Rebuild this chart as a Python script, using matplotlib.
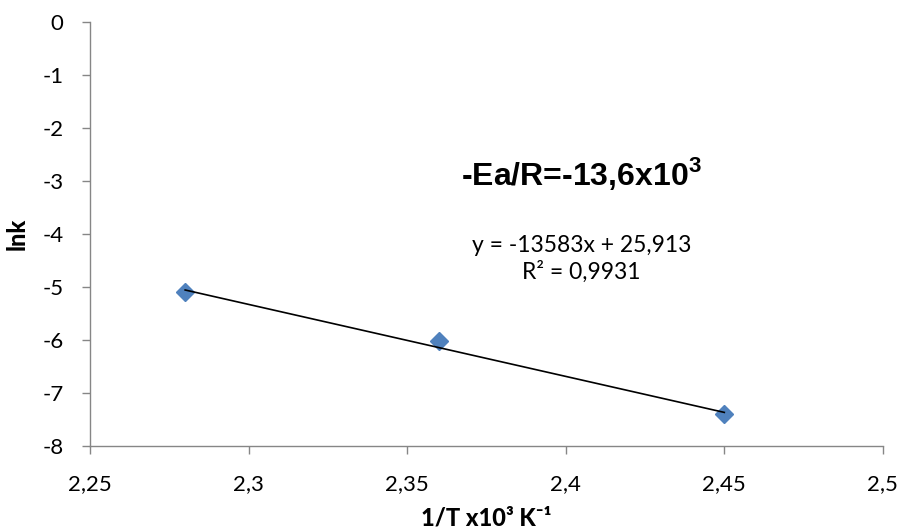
import matplotlib
matplotlib.use("Agg")
import matplotlib.pyplot as plt
import matplotlib.ticker as ticker
import numpy as np

# Datos (1/T x10^3 y lnk)
inv_T = [2.28, 2.36, 2.45]
lnk = [-5.10, -6.02, -7.40]

# Recta de ajuste (x en 1/T, es decir x10^-3)
slope = -13583
intercept = 25.913
eq_text = "y = -13583x + 25,913\nR² = 0,9931"
ea_text = r"-Ea/R=-13,6x10$^{\mathbf{3}}$"

xticks = [2.25, 2.3, 2.35, 2.4, 2.45, 2.5]
yticks = [0, -1, -2, -3, -4, -5, -6, -7, -8]

plt.rcParams['font.family'] = ['Lato', 'DejaVu Sans']
plt.rcParams['mathtext.fontset'] = 'custom'
plt.rcParams['mathtext.bf'] = 'Liberation Sans:bold'
plt.rcParams['mathtext.rm'] = 'Liberation Sans'

fig = plt.figure(figsize=(9.02, 5.31), dpi=100)
ax = fig.add_axes([0.0998, 0.160, 0.879, 0.7986])

ax.plot(inv_T, lnk, linestyle='none', marker='D', markersize=9.5,
        color='#4F81BD', markeredgecolor='#4F81BD', zorder=3)

x_fit = np.array([min(inv_T), max(inv_T)])
y_fit = slope * x_fit / 1000 + intercept
ax.plot(x_fit, y_fit, color='black', linewidth=1.2, zorder=4)

ax.set_xlim(2.25, 2.5)
ax.set_ylim(-8, 0)
ax.set_xticks(xticks)
ax.set_yticks(yticks)
fmt = ticker.FuncFormatter(lambda v, _: f'{v:g}'.replace('.', ','))
ax.xaxis.set_major_formatter(fmt)
ax.yaxis.set_major_formatter(fmt)

for s in ['top', 'right']:
    ax.spines[s].set_visible(False)
for s in ['left', 'bottom']:
    ax.spines[s].set_color('#868686')
    ax.spines[s].set_linewidth(1.0)
ax.tick_params(direction='out', length=6, width=1.0, color='#868686',
               labelsize=16, labelcolor='black')
ax.tick_params(axis='y', pad=13)
ax.tick_params(axis='x', pad=14)

ax.set_xlabel("1/T x10³ K⁻¹", fontsize=17, fontweight='black', labelpad=9)
ax.set_ylabel("lnk", fontsize=17, fontweight='black', labelpad=10)

ax.text(2.405, -2.85, ea_text, fontsize=23, fontweight='bold',
        family='Liberation Sans', ha='center', va='center')
ax.text(2.405, -4.47, eq_text, fontsize=16.5, ha='center', va='center',
        linespacing=1.3)

fig.savefig("out.png", dpi=100)
